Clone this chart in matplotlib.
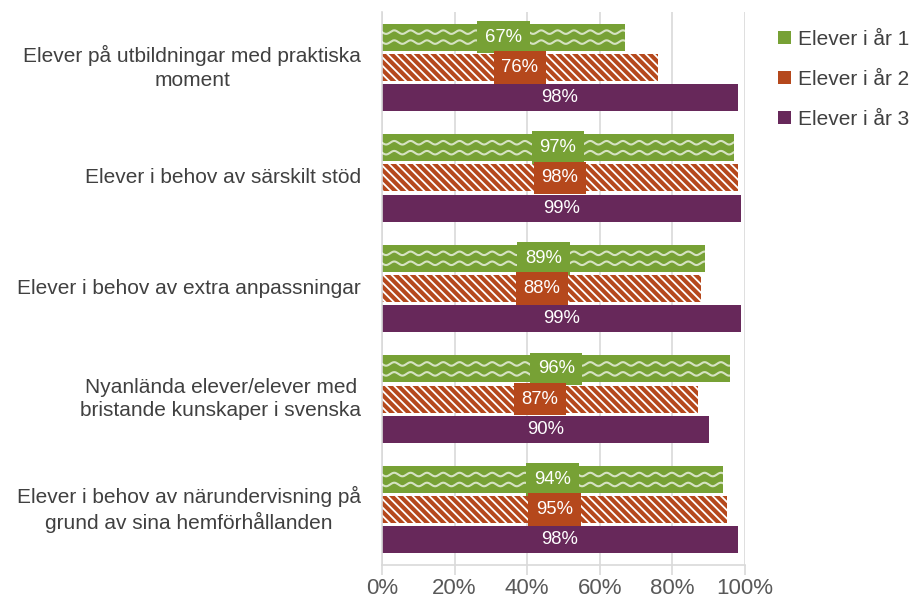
import numpy as np
import matplotlib
matplotlib.use("Agg")
import matplotlib.pyplot as plt
from matplotlib.patches import Patch

plt.rcParams["font.family"] = ["Liberation Sans", "DejaVu Sans"]
plt.rcParams["hatch.color"] = "white"
plt.rcParams["hatch.linewidth"] = 1.3

categories = [
    "Elever på utbildningar med praktiska\nmoment",
    "Elever i behov av särskilt stöd",
    "Elever i behov av extra anpassningar",
    "Nyanlända elever/elever med\nbristande kunskaper i svenska",
    "Elever i behov av närundervisning på\ngrund av sina hemförhållanden",
]
series = ["Elever i år 1", "Elever i år 2", "Elever i år 3"]
year1 = [67, 97, 89, 96, 94]
year2 = [76, 98, 88, 87, 95]
year3 = [98, 99, 99, 90, 98]

GREEN, ORANGE, PURPLE = "#77A135", "#B5481C", "#67285A"
TXT = "#404040"

fig = plt.figure(figsize=(9.14, 5.99), dpi=100)
ax = fig.add_axes([382 / 914, 1 - 565 / 599, 363 / 914, (565 - 12) / 599])

y = np.arange(len(categories))
h, off = 0.245, 0.273
b1 = ax.barh(y - off, np.array(year1) / 100, h, color=GREEN, zorder=2)
b2 = ax.barh(y, np.array(year2) / 100, h, color=ORANGE, hatch="\\\\\\\\", lw=0, zorder=2)
b3 = ax.barh(y + off, np.array(year3) / 100, h, color=PURPLE, zorder=2)

# wavy white pattern on the year-1 bars
for bar in b1:
    x0, w = bar.get_x(), bar.get_width()
    yc = bar.get_y() + bar.get_height() / 2
    xs = np.linspace(x0, x0 + w, 400)
    for k in (-0.045, 0.045):
        ax.plot(xs, yc + k + 0.016 * np.sin(2 * np.pi * xs / 0.045),
                color="white", lw=1.5, alpha=0.7, zorder=3, clip_path=bar)

for bars, vals, col in ((b1, year1, GREEN), (b2, year2, ORANGE)):
    for bar, v in zip(bars, vals):
        ax.text(bar.get_width() / 2, bar.get_y() + bar.get_height() / 2, f"{v}%",
                ha="center", va="center", color="white", fontsize=13.3, zorder=5,
                bbox=dict(boxstyle="square,pad=0.42", fc=col, ec="none"))
for bar, v in zip(b3, year3):
    ax.text(bar.get_width() / 2, bar.get_y() + bar.get_height() / 2, f"{v}%",
            ha="center", va="center", color="white", fontsize=13.3, zorder=5)

ax.set_xlim(0, 1)
ax.set_ylim(len(categories) - 0.5, -0.5)
ax.set_xticks(np.linspace(0, 1, 6))
ax.set_xticklabels([f"{int(t)}%" for t in np.linspace(0, 100, 6)],
                   fontsize=16, color="#595959")
ax.grid(axis="x", color="#D9D9D9", lw=1.2, zorder=0)
ax.tick_params(axis="x", length=7, color="#D9D9D9", width=1.2, pad=2)
ax.tick_params(axis="y", length=0)
ax.set_yticks(y)
ax.set_yticklabels([])
for s in ("top", "right"):
    ax.spines[s].set_visible(False)
for s in ("left", "bottom"):
    ax.spines[s].set_color("#D9D9D9")
    ax.spines[s].set_linewidth(1.2)

for yi, cat in zip(y, categories):
    ax.annotate(cat, xy=(0, yi), xycoords=("axes fraction", "data"),
                xytext=(-15, 0), textcoords="offset points",
                ha="right", va="center", multialignment="center",
                fontsize=15, color=TXT, linespacing=1.3)

handles = [Patch(fc=GREEN, ec="none", hatch="////"),
           Patch(fc=ORANGE, ec="none", hatch="\\\\\\"),
           Patch(fc=PURPLE, ec="none")]
fig.legend(handles, series, loc="upper left", bbox_to_anchor=(778 / 914, 1 - 30 / 599),
           frameon=False, fontsize=15, labelcolor=TXT, handlelength=0.6,
           handleheight=0.6, handletextpad=0.35, labelspacing=1.0,
           borderaxespad=0, borderpad=0)

fig.savefig("out.png", dpi=100)
